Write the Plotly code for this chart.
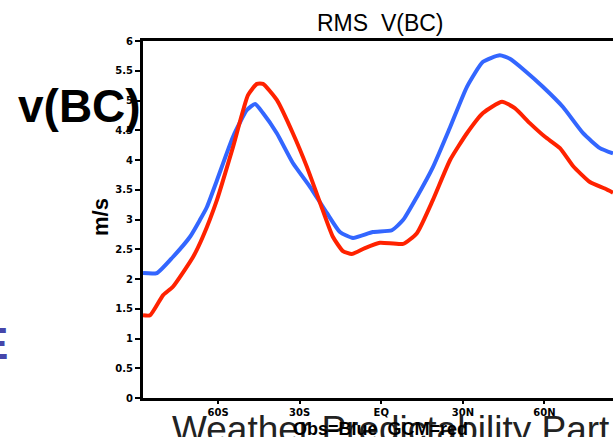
import plotly.graph_objects as go

# Observed (blue) RMS v(BC) by latitude
obs_lat = [-87.6, -82.5, -76.6, -70.3, -66.7, -64.1, -60.4, -54.5, -49.4, -46.4,
           -43.5, -38.4, -32.5, -26.2, -20.0, -15.2, -10.4, -3.1, 3.9, 8.0,
           13.1, 19.0, 25.3, 31.5, 37.4, 43.6, 47.3, 52.8, 59.4, 66.8,
           74.2, 80.4, 85.2]
obs_val = [2.10, 2.10, 2.37, 2.71, 2.99, 3.21, 3.66, 4.39, 4.84, 4.94,
           4.79, 4.45, 3.95, 3.55, 3.11, 2.79, 2.69, 2.79, 2.82, 2.99,
           3.38, 3.88, 4.55, 5.23, 5.65, 5.76, 5.70, 5.50, 5.23, 4.89,
           4.45, 4.20, 4.11]

# GCM (red) RMS v(BC) by latitude
gcm_lat = [-87.6, -85.0, -80.2, -76.6, -69.2, -65.6, -60.4, -54.5, -49.0, -45.7,
           -43.5, -38.4, -32.5, -27.3, -22.5, -17.8, -14.1, -10.8, -6.0, -0.5,
           8.0, 13.1, 19.0, 25.3, 31.5, 37.4, 44.4, 49.1, 54.6, 60.2,
           65.7, 70.5, 76.7, 82.2, 85.2]
gcm_val = [1.39, 1.39, 1.73, 1.87, 2.37, 2.71, 3.33, 4.22, 5.09, 5.28,
           5.28, 5.01, 4.45, 3.88, 3.28, 2.71, 2.47, 2.42, 2.52, 2.61,
           2.59, 2.77, 3.33, 4.00, 4.45, 4.79, 4.98, 4.87, 4.62, 4.39,
           4.20, 3.90, 3.63, 3.52, 3.45]

x_tickvals = [-60, -30, 0, 30, 60]
x_ticktext = ["60S", "30S", "EQ", "30N", "60N"]
y_tickvals = [0, 0.5, 1, 1.5, 2, 2.5, 3, 3.5, 4, 4.5, 5, 5.5, 6]
y_ticktext = ["0", "0.5", "1", "1.5", "2", "2.5", "3", "3.5", "4", "4.5", "5", "5.5", "6"]

W, H = 613, 437
L, R, T, B = 143, 0, 41, 39
pw, ph = W - L - R, H - T - B

def px(x):
    return (x - L) / pw

def py(y):
    return (H - B - y) / ph

fig = go.Figure()
fig.add_trace(go.Scatter(x=obs_lat, y=obs_val, mode="lines",
                         line=dict(color="#3366ff", width=4, shape="spline", smoothing=0.5),
                         name="Obs", showlegend=False))
fig.add_trace(go.Scatter(x=gcm_lat, y=gcm_val, mode="lines",
                         line=dict(color="#ff2200", width=4, shape="spline", smoothing=0.5),
                         name="GCM", showlegend=False))

tickfont = dict(family="DejaVu Sans", size=10, color="black", weight="bold")

fig.update_layout(
    width=W, height=H,
    margin=dict(l=L, r=R, t=T, b=B),
    paper_bgcolor="white", plot_bgcolor="white",
    xaxis=dict(range=[-87.6, 85.2], tickvals=x_tickvals, ticktext=x_ticktext,
               showgrid=False, zeroline=False, showline=True, linecolor="black",
               linewidth=3, mirror=True, ticks="outside", ticklen=3, tickwidth=1.5,
               tickcolor="black", tickfont=tickfont),
    yaxis=dict(range=[0, 6], tickvals=y_tickvals, ticktext=y_ticktext,
               showgrid=False, zeroline=False, showline=True, linecolor="black",
               linewidth=3, ticks="outside", ticklen=5, tickwidth=2,
               tickcolor="black", tickfont=tickfont),
    font=dict(family="Liberation Sans, Arial, sans-serif", color="black"),
)

ann = [
    dict(text="RMS\u00a0\u00a0V(BC)", x=px(380), y=py(23), xref="paper", yref="paper",
         showarrow=False, xanchor="center", yanchor="middle",
         font=dict(size=23, family="Liberation Sans, Arial", color="black")),
    dict(text="<b>m/s</b>", x=px(100), y=py(217), xref="paper", yref="paper",
         showarrow=False, xanchor="center", yanchor="middle", textangle=-90,
         font=dict(size=22, family="Liberation Sans, Arial", color="black")),
    dict(text="<b>v(BC)</b>", x=px(79), y=py(106), xref="paper", yref="paper",
         showarrow=False, xanchor="center", yanchor="middle",
         font=dict(size=46, family="Liberation Sans, Arial", color="black")),
    dict(text="<b>E</b>", x=px(10), y=py(343), xref="paper", yref="paper",
         showarrow=False, xanchor="right", yanchor="middle",
         font=dict(size=44, family="Liberation Sans, Arial", color="#4646aa")),
    dict(text="Weather Predictability Part", x=px(170), y=py(407), xref="paper", yref="paper",
         showarrow=False, xanchor="left", yanchor="top",
         font=dict(size=37, family="Liberation Sans, Arial", color="#222222")),
    dict(text="<b>Obs=Blue  GCM=red</b>", x=px(380), y=py(429), xref="paper", yref="paper",
         showarrow=False, xanchor="center", yanchor="middle",
         font=dict(size=18, family="Liberation Sans, Arial", color="black")),
]
fig.update_layout(annotations=ann)

fig.write_html("out.html", config={"displayModeBar": False},
               post_script="document.body.style.margin='0';document.body.style.overflow='hidden';")
